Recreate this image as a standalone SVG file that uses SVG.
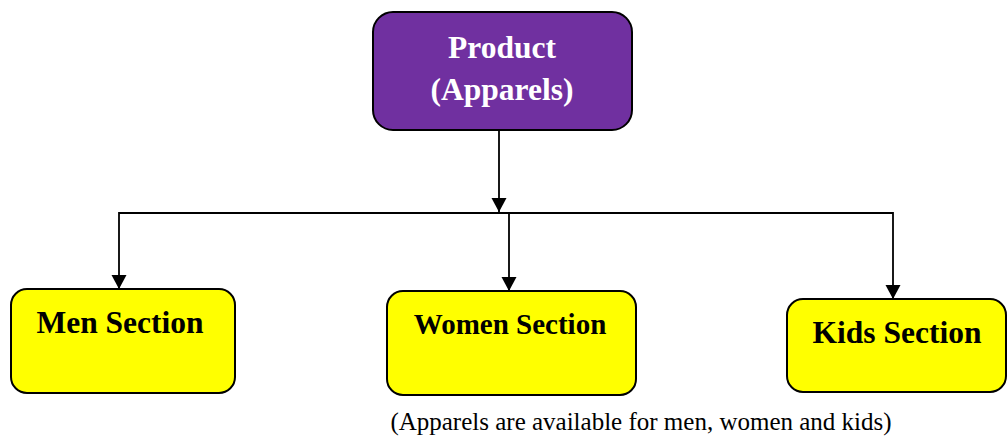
<svg xmlns="http://www.w3.org/2000/svg" width="1008" height="439" viewBox="0 0 1008 439">
<style>
.box{stroke:#000;stroke-width:2}
.top{fill:#7030A0}
.leaf{fill:#FFFF00}
.lbl{font-family:"Liberation Serif","Times New Roman",serif;font-weight:bold;text-anchor:middle}
.conn{fill:none;stroke:#000;stroke-width:1.8}
.cap{font-family:"Liberation Serif","Times New Roman",serif;font-size:25px;text-anchor:middle;fill:#000}
</style>
<defs>
<marker id="arr" markerUnits="userSpaceOnUse" markerWidth="16" markerHeight="16" viewBox="0 0 16 16" refX="14" refY="8" orient="auto">
<path d="M0,0.5 L14,8 L0,15.5 Z" fill="#000"/>
</marker>
</defs>
<g id="connectors">
<path class="conn" d="M499,131 V212" marker-end="url(#arr)"/>
<path class="conn" d="M119,213 H893"/>
<path class="conn" d="M119,212 V289" marker-end="url(#arr)"/>
<path class="conn" d="M509,213 V291" marker-end="url(#arr)"/>
<path class="conn" d="M893,212 V299" marker-end="url(#arr)"/>
</g>
<g id="product">
<rect class="box top" x="373" y="12" width="259" height="118" rx="20"/>
<text class="lbl" x="502" y="58" font-size="31.5" fill="#fff">Product</text>
<text class="lbl" x="502" y="100" font-size="31.5" fill="#fff">(Apparels)</text>
</g>
<g id="men">
<rect class="box leaf" x="11" y="289" width="224" height="104" rx="16"/>
<text class="lbl" x="120" y="333" font-size="31.5">Men Section</text>
</g>
<g id="women">
<rect class="box leaf" x="387" y="291" width="249" height="104" rx="16"/>
<text class="lbl" x="510" y="334" font-size="29">Women Section</text>
</g>
<g id="kids">
<rect class="box leaf" x="787" y="299" width="219" height="93" rx="16"/>
<text class="lbl" x="897" y="343" font-size="31.5">Kids Section</text>
</g>
<text class="cap" x="641" y="430">(Apparels are available for men, women and kids)</text>
</svg>
